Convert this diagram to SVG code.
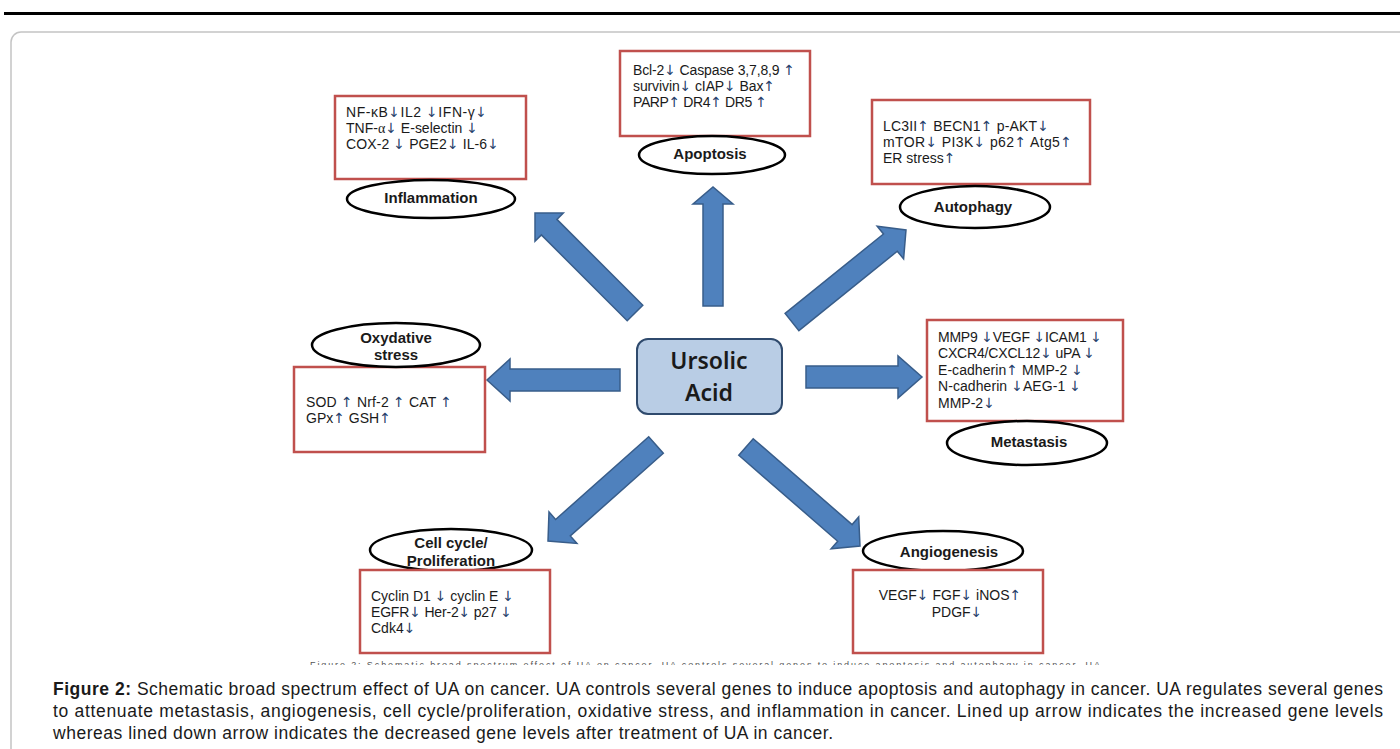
<svg xmlns="http://www.w3.org/2000/svg" width="1400" height="749" viewBox="0 0 1400 749">
<style>
.box{fill:#fff;stroke:#c0504d;stroke-width:2.5}
.ell{fill:#fff;stroke:#000;stroke-width:2.5}
.t{font-family:"Liberation Sans",Arial,sans-serif;font-size:14px;fill:#1a1a1a}
.a{fill:#27416b;font-family:"DejaVu Sans",sans-serif;font-size:14px}
.lbl{font-family:"Liberation Sans",Arial,sans-serif;font-size:15px;font-weight:bold;fill:#1a1a1a;text-anchor:middle}
.arr{fill:#4f81bd;stroke:#385d8a;stroke-width:1.5;stroke-linejoin:miter}
.cap{font-family:"Liberation Sans",Arial,sans-serif;font-size:17.5px;fill:#1a1a1a}
.ua{font-family:"Noto Sans","Liberation Sans",sans-serif;font-size:23px;font-weight:600;fill:#1a1a1a;text-anchor:middle}
</style>
<defs>
<clipPath id="faint"><rect x="280" y="655" width="900" height="10"/></clipPath>
</defs>
<rect x="0" y="0" width="1400" height="749" fill="#fff"/>
<rect x="4" y="12" width="1396" height="3" fill="#000"/>
<rect x="11" y="32" width="1420" height="760" rx="10" fill="#fff" stroke="#c4c4c4" stroke-width="1.5"/>

<g id="connectors">
<polygon class="arr" points="723,306 723,204 733,204 713,187 693,204 703,204 703,306"/>
<polygon class="arr" points="642.8,305.2 556.9,219.4 563.3,213 535,213 535,241.3 541.4,234.9 627.2,320.8"/>
<polygon class="arr" points="798.9,330.6 897.3,251.2 903.6,258.9 906,230 877.2,226.2 883.5,234 785.1,313.4"/>
<polygon class="arr" points="806,366 898,366 898,356 922,377 898,398 898,388 806,388"/>
<polygon class="arr" points="620,369 510,369 510,359 487,380 510,401 510,391 620,391"/>
<polygon class="arr" points="648.7,436.8 555.6,519.5 549,512 548,541 576.9,543.4 570.3,535.9 663.3,453.2"/>
<polygon class="arr" points="738.8,455.3 837.7,541.2 831.1,548.8 860,546 858.7,517 852.1,524.6 753.2,438.7"/>
</g>

<g id="ursolic">
<rect x="637" y="339" width="145" height="75" rx="11" fill="#b9cde5" stroke="#2f4a6d" stroke-width="2"/>
<text class="ua" x="709" y="369">Ursolic</text>
<text class="ua" x="709" y="401">Acid</text>
</g>

<g id="inflammation">
<rect class="box" x="335" y="96" width="191" height="83"/>
<text class="t" x="346" y="117" textLength="141">NF-κB<tspan class="a">↓</tspan>IL2 <tspan class="a">↓</tspan>IFN-γ<tspan class="a">↓</tspan></text>
<text class="t" x="346" y="133" textLength="132">TNF-<tspan font-family="'Liberation Serif',serif">α</tspan><tspan class="a">↓</tspan> E-selectin <tspan class="a">↓</tspan></text>
<text class="t" x="346" y="149" textLength="153">COX-2 <tspan class="a">↓</tspan> PGE2<tspan class="a">↓</tspan>  IL-6<tspan class="a">↓</tspan></text>
<ellipse class="ell" cx="431" cy="199" rx="84" ry="19"/>
<text class="lbl" x="431" y="203">Inflammation</text>
</g>

<g id="apoptosis">
<rect class="box" x="620" y="51" width="190" height="85"/>
<text class="t" x="633" y="75" textLength="162">Bcl-2<tspan class="a">↓</tspan> Caspase 3,7,8,9 <tspan class="a">↑</tspan></text>
<text class="t" x="633" y="91" textLength="142">survivin<tspan class="a">↓</tspan> cIAP<tspan class="a">↓</tspan> Bax<tspan class="a">↑</tspan></text>
<text class="t" x="633" y="107" textLength="134">PARP<tspan class="a">↑</tspan> DR4<tspan class="a">↑</tspan> DR5 <tspan class="a">↑</tspan></text>
<ellipse class="ell" cx="712" cy="155" rx="73" ry="19"/>
<text class="lbl" x="710" y="159">Apoptosis</text>
</g>

<g id="autophagy">
<rect class="box" x="872" y="100" width="218" height="84"/>
<text class="t" x="883" y="131" textLength="166">LC3II<tspan class="a">↑</tspan>  BECN1<tspan class="a">↑</tspan>  p-AKT<tspan class="a">↓</tspan></text>
<text class="t" x="883" y="147" textLength="189">mTOR<tspan class="a">↓</tspan>  PI3K<tspan class="a">↓</tspan> p62<tspan class="a">↑</tspan>  Atg5<tspan class="a">↑</tspan></text>
<text class="t" x="883" y="163">ER stress<tspan class="a">↑</tspan></text>
<ellipse class="ell" cx="975" cy="207" rx="75" ry="21"/>
<text class="lbl" x="973" y="212">Autophagy</text>
</g>

<g id="oxydative">
<rect class="box" x="294" y="367" width="191" height="85"/>
<text class="t" x="306" y="407" textLength="146">SOD <tspan class="a">↑</tspan> Nrf-2  <tspan class="a">↑</tspan> CAT <tspan class="a">↑</tspan></text>
<text class="t" x="306" y="423">GPx<tspan class="a">↑</tspan>  GSH<tspan class="a">↑</tspan></text>
<ellipse class="ell" cx="396" cy="345" rx="84" ry="22"/>
<text class="lbl" x="396" y="343">Oxydative</text>
<text class="lbl" x="396" y="360">stress</text>
</g>

<g id="metastasis">
<rect class="box" x="927" y="320" width="196" height="101"/>
<text class="t" x="938" y="342" textLength="164">MMP9 <tspan class="a">↓</tspan>VEGF <tspan class="a">↓</tspan>ICAM1 <tspan class="a">↓</tspan></text>
<text class="t" x="938" y="358" textLength="157">CXCR4/CXCL12<tspan class="a">↓</tspan>  uPA <tspan class="a">↓</tspan></text>
<text class="t" x="938" y="375" textLength="145">E-cadherin<tspan class="a">↑</tspan> MMP-2 <tspan class="a">↓</tspan></text>
<text class="t" x="938" y="391" textLength="143">N-cadherin <tspan class="a">↓</tspan>AEG-1 <tspan class="a">↓</tspan></text>
<text class="t" x="938" y="408">MMP-2<tspan class="a">↓</tspan></text>
<ellipse class="ell" cx="1027" cy="443" rx="80" ry="22"/>
<text class="lbl" x="1029" y="447">Metastasis</text>
</g>

<g id="cellcycle">
<ellipse class="ell" cx="451" cy="550" rx="81" ry="21"/>
<text class="lbl" x="451" y="548">Cell cycle/</text>
<text class="lbl" x="451" y="566">Proliferation</text>
<rect class="box" x="360" y="570" width="190" height="83"/>
<text class="t" x="371" y="601" textLength="143">Cyclin D1 <tspan class="a">↓</tspan> cyclin E <tspan class="a">↓</tspan></text>
<text class="t" x="371" y="617" textLength="141">EGFR<tspan class="a">↓</tspan> Her-2<tspan class="a">↓</tspan> p27 <tspan class="a">↓</tspan></text>
<text class="t" x="371" y="633">Cdk4<tspan class="a">↓</tspan></text>
</g>

<g id="angiogenesis">
<ellipse class="ell" cx="943" cy="551" rx="80" ry="20"/>
<text class="lbl" x="949" y="557">Angiogenesis</text>
<rect class="box" x="853" y="570" width="190" height="83"/>
<text class="t" x="950" y="600" text-anchor="middle">VEGF<tspan class="a">↓</tspan> FGF<tspan class="a">↓</tspan> iNOS<tspan class="a">↑</tspan></text>
<text class="t" x="957" y="617" text-anchor="middle">PDGF<tspan class="a">↓</tspan></text>
</g>

<g id="caption">
<text clip-path="url(#faint)" x="310" y="668" font-family="'Liberation Sans',Arial,sans-serif" font-size="9" fill="#555" textLength="790" lengthAdjust="spacing">Figure 2: Schematic broad spectrum effect of UA on cancer. UA controls several genes to induce apoptosis and autophagy in cancer. UA</text>
<text class="cap" x="53" y="695" textLength="1330" lengthAdjust="spacing"><tspan font-weight="bold">Figure 2:</tspan> Schematic broad spectrum effect of UA on cancer. UA controls several genes to induce apoptosis and autophagy in cancer. UA regulates several genes</text>
<text class="cap" x="53" y="717" textLength="1330" lengthAdjust="spacing">to attenuate metastasis, angiogenesis, cell cycle/proliferation, oxidative stress, and inflammation in cancer. Lined up arrow indicates the increased gene levels</text>
<text class="cap" x="53" y="739" textLength="780" lengthAdjust="spacing">whereas lined down arrow indicates the decreased gene levels after treatment of UA in cancer.</text>
</g>
</svg>
